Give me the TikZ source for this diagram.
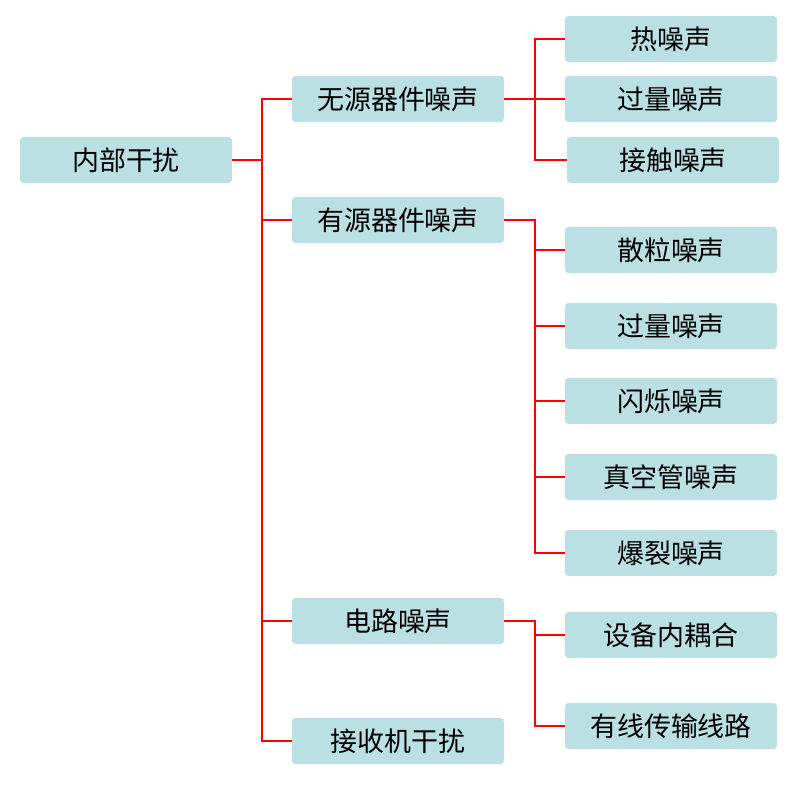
\documentclass[tikz,border=0pt]{standalone}
\usepackage{fontspec}
\setmainfont{Noto Sans CJK SC}
\usetikzlibrary{positioning}
\definecolor{boxfill}{HTML}{BAE0E3}
\tikzset{
  basic/.style  = {rectangle, rounded corners=3pt, fill=boxfill, align=center,
  font=\fontsize{23pt}{27pt}\selectfont, inner sep=0pt,
  minimum width=6.36cm, minimum height=1.38cm},
  root/.style   = {basic},
  level 1/.style = {basic},
  level 2/.style = {basic},
  link/.style = {draw=red, line width=1.7pt}
}

\begin{document}
\begin{tikzpicture}[x=0.03cm,y=-0.03cm]
\useasboundingbox (0,0) rectangle (803,787);
\node[root] (internal) at (126,160) {内部干扰};

\node[level 1] (passive) at (398,99) {无源器件噪声};
\node[level 1] (active) at (398,220) {有源器件噪声};
\node[level 1] (circuit) at (398,621) {电路噪声};
\node[level 1] (receiver) at (398,741) {接收机干扰};

\node[level 2] (thermal) at (671,39) {热噪声};
\node[level 2] (excessA) at (671,99) {过量噪声};
\node[level 2] (contact) at (673,160) {接触噪声};

\node[level 2] (shot) at (671,250) {散粒噪声};
\node[level 2] (excessB) at (671,326) {过量噪声};
\node[level 2] (flicker) at (671,401) {闪烁噪声};
\node[level 2] (vacuum) at (671,477) {真空管噪声};
\node[level 2] (burst) at (671,553) {爆裂噪声};

\node[level 2] (coupling) at (671,635) {设备内耦合};
\node[level 2] (wired) at (671,726) {有线传输线路};

\foreach \n in {passive,active,circuit,receiver}
  \path[link] (internal.east) -- ++(30,0) |- (\n.west);
\foreach \n in {thermal,excessA,contact}
  \path[link] (passive.east) -- ++(31,0) |- (\n.west);
\foreach \n in {shot,excessB,flicker,vacuum,burst}
  \path[link] (active.east) -- ++(31,0) |- (\n.west);
\foreach \n in {coupling,wired}
  \path[link] (circuit.east) -- ++(31,0) |- (\n.west);
\end{tikzpicture}
\end{document}
